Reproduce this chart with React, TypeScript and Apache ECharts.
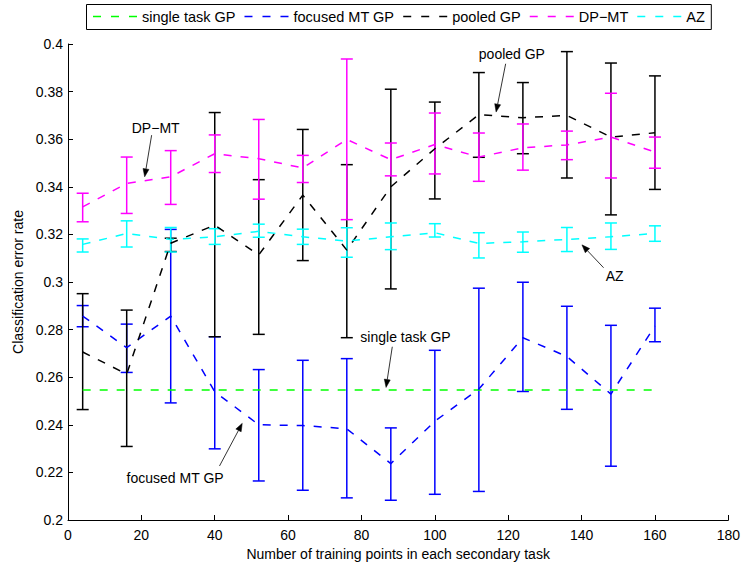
import React, { useEffect, useRef } from "react";
import * as echarts from "echarts";

const trainingPoints = [4, 16, 28, 40, 52, 64, 76, 88, 100, 112, 124, 136, 148, 160];

const singleTaskGP = [0.2546, 0.2546, 0.2546, 0.2546, 0.2546, 0.2546, 0.2546, 0.2546, 0.2546, 0.2546, 0.2546, 0.2546, 0.2546, 0.2546];

const focusedMean = [0.2857, 0.2724, 0.2857, 0.2539, 0.24, 0.2397, 0.2383, 0.2237, 0.2415, 0.255, 0.2766, 0.2687, 0.2529, 0.2815];
const focusedLow = [0.2812, 0.262, 0.2492, 0.2299, 0.2164, 0.2125, 0.2093, 0.2083, 0.2108, 0.212, 0.254, 0.2465, 0.2226, 0.2749];
const focusedHigh = [0.2901, 0.2823, 0.3221, 0.277, 0.2632, 0.2671, 0.2678, 0.2387, 0.2713, 0.2974, 0.2999, 0.2898, 0.2818, 0.289];

const pooledMean = [0.2706, 0.2613, 0.3163, 0.3239, 0.3114, 0.3365, 0.3134, 0.34, 0.356, 0.3703, 0.369, 0.37, 0.3609, 0.3627];
const pooledLow = [0.2464, 0.2309, 0.3128, 0.277, 0.278, 0.309, 0.2766, 0.2971, 0.3349, 0.3524, 0.3539, 0.3437, 0.3282, 0.3389];
const pooledHigh = [0.2951, 0.2882, 0.3184, 0.3712, 0.343, 0.3641, 0.3493, 0.381, 0.3756, 0.388, 0.3838, 0.3968, 0.392, 0.3866];

const dpMean = [0.3316, 0.3414, 0.3442, 0.3539, 0.3518, 0.3479, 0.3599, 0.3514, 0.3578, 0.3525, 0.3564, 0.3576, 0.3609, 0.3546];
const dpLow = [0.3253, 0.3288, 0.3326, 0.346, 0.3348, 0.3418, 0.3262, 0.3446, 0.3454, 0.3423, 0.347, 0.3514, 0.3437, 0.3478];
const dpHigh = [0.3373, 0.3525, 0.3552, 0.3618, 0.3683, 0.3532, 0.3937, 0.3584, 0.371, 0.3626, 0.3664, 0.3634, 0.3793, 0.3609];

const azMean = [0.3158, 0.3204, 0.3179, 0.319, 0.3213, 0.319, 0.3172, 0.319, 0.3207, 0.3162, 0.3169, 0.3179, 0.319, 0.3204];
const azLow = [0.3126, 0.3147, 0.3126, 0.3158, 0.3188, 0.3158, 0.3104, 0.3136, 0.3189, 0.3101, 0.3125, 0.3128, 0.3137, 0.3171];
const azHigh = [0.3181, 0.3257, 0.3229, 0.3224, 0.3243, 0.3222, 0.3228, 0.3248, 0.3245, 0.3207, 0.321, 0.3229, 0.3248, 0.3236];

const seriesNames = ["single task GP", "focused MT GP", "pooled GP", "DP\u2212MT", "AZ"];
const seriesColors = ["#00ff00", "#0000ff", "#000000", "#ff00ff", "#00ffff"];

// annotation: label, text anchor, arrow tail, arrow head (all in data coords)
const annotationLabels = ["DP\u2212MT", "pooled GP", "AZ", "single task GP", "focused MT GP"];
const annotationTextAt = [[23.9, 0.3648], [121.0, 0.3958], [149.0, 0.3026], [92.0, 0.277], [29.2, 0.2175]];
const annotationFrom = [[22.8, 0.3617], [119.3, 0.3917], [146.0, 0.306], [88.4, 0.2728], [41.3, 0.2227]];
const annotationTo = [[20.9, 0.3442], [116.7, 0.3714], [140.1, 0.3156], [86.7, 0.2557], [47.5, 0.2406]];

const FONT = "'Liberation Sans', Arial, Helvetica, sans-serif";
const FONT_SIZE = 14;
const LEGEND_FONT_SIZE = 14.5;
const DASH = [8, 9];

function measure(text: string, size: number): number {
  const c = document.createElement("canvas").getContext("2d");
  if (!c) return text.length * 7;
  c.font = `${size}px ${FONT}`;
  return c.measureText(text).width;
}

function errorBarSeries(name: string, color: string, low: number[], high: number[]) {
  return {
    type: "custom",
    name,
    data: trainingPoints.map((x, i) => [x, low[i], high[i]]),
    encode: { x: 0, y: [1, 2] },
    silent: true,
    renderItem: (params: any, api: any) => {
      const x = api.value(0);
      const lo = api.coord([x, api.value(1)]);
      const hi = api.coord([x, api.value(2)]);
      const hw = 6;
      const style = { stroke: color, lineWidth: 1.5, fill: "none" };
      return {
        type: "group",
        children: [
          { type: "line", shape: { x1: lo[0], y1: lo[1], x2: hi[0], y2: hi[1] }, style },
          { type: "line", shape: { x1: hi[0] - hw, y1: hi[1], x2: hi[0] + hw, y2: hi[1] }, style },
          { type: "line", shape: { x1: lo[0] - hw, y1: lo[1], x2: lo[0] + hw, y2: lo[1] }, style },
        ],
      };
    },
  };
}

function lineSeries(name: string, color: string, values: number[]) {
  return {
    type: "line",
    name,
    data: trainingPoints.map((x, i) => [x, values[i]]),
    symbol: "none",
    showSymbol: false,
    color,
    lineStyle: { color, width: 1.5, type: DASH },
    silent: true,
  };
}

function buildLegend(): any[] {
  const items: any[] = [];
  const top = 4;
  const height = 25;
  const cy = top + height / 2;
  const boxLeft = 86;
  let x = 93;
  seriesNames.forEach((name, i) => {
    items.push({
      type: "line",
      silent: true,
      shape: { x1: x, y1: cy, x2: x + 44, y2: cy },
      style: { stroke: seriesColors[i], lineWidth: 1.5, lineDash: [8, 10] },
      z: 101,
    });
    x += 44 + 5;
    const w = measure(name, LEGEND_FONT_SIZE);
    items.push({
      type: "text",
      silent: true,
      x,
      y: cy,
      style: {
        text: name,
        fill: "#000",
        fontSize: LEGEND_FONT_SIZE,
        fontFamily: FONT,
        textAlign: "left",
        textVerticalAlign: "middle",
      },
      z: 101,
    });
    x += w + (i < seriesNames.length - 1 ? 9 : 6);
  });
  items.unshift({
    type: "rect",
    silent: true,
    shape: { x: boxLeft + 0.5, y: top + 0.5, width: x - boxLeft, height },
    style: { fill: "#fff", stroke: "#000", lineWidth: 1 },
    z: 100,
  });
  return items;
}

export default function App() {
  const ref = useRef<HTMLDivElement>(null);
  useEffect(() => {
    if (!ref.current) return;
    const chart = echarts.init(ref.current, undefined, { renderer: "svg" });
    const option: any = {
      animation: false,
      backgroundColor: "#ffffff",
      textStyle: { fontFamily: FONT },
      grid: { left: 68, right: 12, top: 44, bottom: 48, containLabel: false },
      xAxis: {
        type: "value",
        min: 0,
        max: 180,
        interval: 20,
        name: "Number of training points in each secondary task",
        nameLocation: "middle",
        nameGap: 24,
        nameTextStyle: { fontSize: FONT_SIZE, color: "#000", fontFamily: FONT },
        axisLine: { lineStyle: { color: "#000", width: 1 } },
        axisTick: { inside: true, length: 5, lineStyle: { color: "#000" } },
        axisLabel: { fontSize: FONT_SIZE, color: "#000", margin: 8, fontFamily: FONT },
        splitLine: { show: false },
      },
      yAxis: {
        type: "value",
        min: 0.2,
        max: 0.4,
        interval: 0.02,
        name: "Classification error rate",
        nameLocation: "middle",
        nameGap: 40,
        nameTextStyle: { fontSize: FONT_SIZE, color: "#000", fontFamily: FONT },
        axisLine: { show: true, lineStyle: { color: "#000", width: 1 } },
        axisTick: { show: true, inside: true, length: 5, lineStyle: { color: "#000" } },
        axisLabel: {
          fontSize: FONT_SIZE,
          color: "#000",
          margin: 5,
          fontFamily: FONT,
          formatter: (v: number) => String(parseFloat(v.toFixed(2))),
        },
        splitLine: { show: false },
      },
      series: [
        lineSeries(seriesNames[0], seriesColors[0], singleTaskGP),
        lineSeries(seriesNames[1], seriesColors[1], focusedMean),
        errorBarSeries("focused MT GP bars", seriesColors[1], focusedLow, focusedHigh),
        lineSeries(seriesNames[2], seriesColors[2], pooledMean),
        errorBarSeries("pooled GP bars", seriesColors[2], pooledLow, pooledHigh),
        lineSeries(seriesNames[3], seriesColors[3], dpMean),
        errorBarSeries("DP-MT bars", seriesColors[3], dpLow, dpHigh),
        lineSeries(seriesNames[4], seriesColors[4], azMean),
        errorBarSeries("AZ bars", seriesColors[4], azLow, azHigh),
      ],
    };
    chart.setOption(option);

    const graphics: any[] = buildLegend();
    annotationLabels.forEach((label, i) => {
      const t = chart.convertToPixel({ gridIndex: 0 }, annotationTextAt[i]) as number[];
      const a = chart.convertToPixel({ gridIndex: 0 }, annotationFrom[i]) as number[];
      const b = chart.convertToPixel({ gridIndex: 0 }, annotationTo[i]) as number[];
      graphics.push({
        type: "text",
        x: t[0],
        y: t[1],
        silent: true,
        style: {
          text: label,
          fill: "#000",
          fontSize: FONT_SIZE,
          fontFamily: FONT,
          textAlign: "center",
          textVerticalAlign: "middle",
        },
        z: 100,
      });
      const dx = b[0] - a[0];
      const dy = b[1] - a[1];
      const len = Math.sqrt(dx * dx + dy * dy) || 1;
      const ux = dx / len;
      const uy = dy / len;
      const headLen = 8;
      const headW = 3;
      const bx = b[0] - ux * headLen;
      const by = b[1] - uy * headLen;
      graphics.push({
        type: "line",
        silent: true,
        shape: { x1: a[0], y1: a[1], x2: bx, y2: by },
        style: { stroke: "#000", lineWidth: 0.8 },
        z: 100,
      });
      graphics.push({
        type: "polygon",
        silent: true,
        shape: {
          points: [
            [b[0], b[1]],
            [bx - uy * headW, by + ux * headW],
            [bx + uy * headW, by - ux * headW],
          ],
        },
        style: { fill: "#000", stroke: "#000", lineWidth: 0.5 },
        z: 100,
      });
    });
    chart.setOption({ graphic: graphics });

    return () => {
      chart.dispose();
    };
  }, []);

  return (
    <div
      ref={ref}
      style={{ position: "fixed", left: 0, top: 0, width: 743, height: 568, background: "#fff" }}
    />
  );
}
